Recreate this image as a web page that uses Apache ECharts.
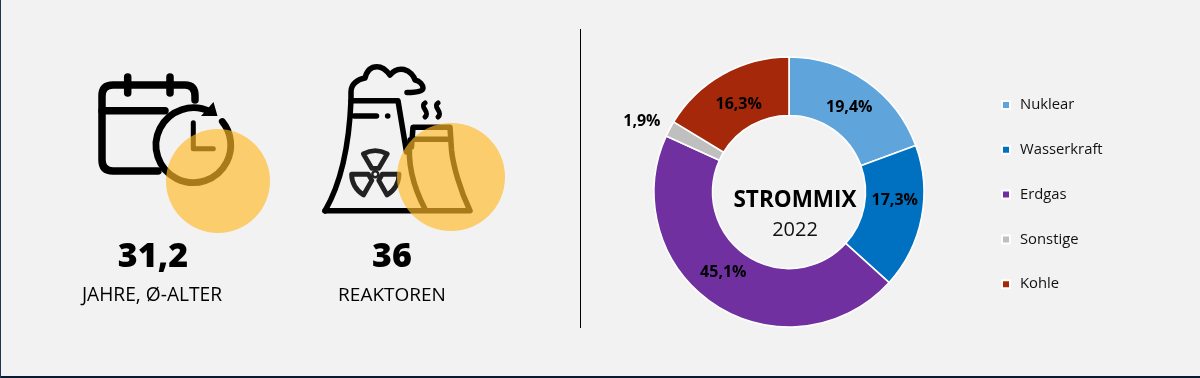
<!DOCTYPE html>
<html>
<head>
<meta charset="utf-8">
<title>Strommix 2022</title>
<script src="https://cdn.jsdelivr.net/npm/echarts@6/dist/echarts.min.js"></script>
<style>
  html, body { margin: 0; padding: 0; background: #f2f2f2; }
  #chart { width: 1200px; height: 378px; }
</style>
</head>
<body>
<div id="chart"></div>
<script>
// Strommix 2022
const categories = ['Nuklear', 'Wasserkraft', 'Erdgas', 'Sonstige', 'Kohle']
const shares = [19.4, 17.3, 45.1, 1.9, 16.3]
const colors = ['#5fa5dc', '#0070c0', '#7030a0', '#bfbfbf', '#a5280a']
// shift of each label from the middle of its ring segment
const labelShifts = [[-2, 5], [-1, -12], [-6, -10], [-51, -20], [3, 7]]

const FONT = '"Open Sans", "Noto Sans", sans-serif'
const HEAVY = '"Noto Sans", "Open Sans", sans-serif'
const INK = '#000'
const YELLOW = 'rgba(255,185,40,0.66)'

// the graphic component has no path type, so the icons go through a custom series
const icon = (d, w) => ({
  type: 'path',
  shape: { pathData: d },
  style: { fill: 'none', stroke: INK, lineWidth: w, lineCap: 'round', lineJoin: 'round' }
})

// Kalender mit Uhr
const calendarIcon = [
  icon('M158 171 H113 Q102 171 102 160 V96 Q102 85 113 85 H185 Q195 85 195 96 V100', 7.5),
  icon('M102 110.7 H165', 7.5),
  icon('M127.7 77 V93 M170 77 V93', 7.5),
  icon('M210.2 111.8 A37.4 37.4 0 1 0 222.3 121.5', 6.8),
  icon('M193.3 122.7 V148.7 H213.3', 5),
  { type: 'path', shape: { pathData: 'M213.5 102 L217.5 116 L201 116 Z' }, style: { fill: INK } }
]

// Kuehlturm
const blade = 'M-3.5 -6 L-12 -20.5 Q0 -27 12 -20.5 L3.5 -6 Z'
const plantIcon = [
  icon('M325 210.8 C340 185 349 150 351 100 V91.7 C351 84 358 79 365 78 C367 70 371 66.7 377 66.7 C383 66.7 387 71 390 75 C394 70 399 68.5 404 69.5 C410 71 414 76 415 80 C420 81 423 85 423 88 C423 91 418 92.5 407 92.5', 5.5),
  icon('M351 100.8 H398 L406.5 152', 5.5),
  icon('M354 116 H376.5', 5.5),
  { type: 'circle', shape: { cx: 387.7, cy: 116, r: 2.8 }, style: { fill: INK } },
  icon('M425 103 C419 107 431 112 425 117 M438 103 C432 107 444 112 438 117', 5),
  icon('M411.5 147 L413 127.3 H450 L451.5 150 C453 165 460 190 470 210.8 H325', 5.5),
  icon('M413 139.3 H450', 5.5),
  icon('M410 140 C407 165 414 188 425 209', 5.5),
  { type: 'circle', shape: { cx: 375.3, cy: 174.3, r: 3 }, style: { fill: 'none', stroke: '#222', lineWidth: 2.4 } }
].concat([0, 2, 4].map((k) => ({
  type: 'path',
  x: 375.3,
  y: 174.3,
  rotation: k * Math.PI / 3,
  shape: { pathData: blade },
  style: { fill: 'none', stroke: '#222', lineWidth: 4.8, lineJoin: 'round' }
})))

const spots = [
  { type: 'circle', shape: { cx: 218, cy: 181, r: 52 }, style: { fill: YELLOW } },
  { type: 'circle', shape: { cx: 451, cy: 177, r: 54 }, style: { fill: YELLOW } }
]

const text = (x, y, str, font, weight, size) => ({
  type: 'text',
  x,
  y,
  style: { text: str, fontFamily: font, fontWeight: weight, fontSize: size, fill: INK, align: 'center', verticalAlign: 'middle' },
  z: 8
})

const option = {
  animation: false,
  backgroundColor: '#f2f2f2',
  color: colors,
  title: {
    text: 'STROMMIX',
    subtext: '2022',
    left: 790,
    top: 183,
    textAlign: 'center',
    itemGap: 4,
    textStyle: { fontFamily: FONT, fontSize: 22.5, fontWeight: 700, color: INK, lineHeight: 26 },
    subtextStyle: { fontFamily: FONT, fontSize: 20, fontWeight: 400, color: '#111', lineHeight: 24 }
  },
  legend: {
    orient: 'vertical',
    left: 996,
    top: 91,
    icon: 'rect',
    itemWidth: 8,
    itemHeight: 8,
    itemGap: 26.8,
    data: categories,
    textStyle: { fontFamily: FONT, fontSize: 14.8, color: '#111', lineHeight: 18, padding: [0, 0, 0, 5] }
  },
  series: [
    {
      type: 'pie',
      center: [789, 192],
      radius: [76.5, 135],
      startAngle: 90,
      clockwise: true,
      silent: true,
      itemStyle: { borderColor: '#fff', borderWidth: 1.6 },
      label: {
        show: true,
        position: 'inside',
        fontFamily: FONT,
        fontSize: 16,
        fontWeight: 700,
        color: INK,
        formatter: (p) => p.value.toFixed(1).replace('.', ',') + '%'
      },
      labelLine: { show: false },
      labelLayout: (p) => ({ dx: labelShifts[p.dataIndex][0], dy: labelShifts[p.dataIndex][1] }),
      data: categories.map((name, i) => ({ name, value: shares[i] }))
    },
    {
      type: 'custom',
      coordinateSystem: 'none',
      silent: true,
      data: [0],
      renderItem: () => ({
        type: 'group',
        children: [...calendarIcon, ...plantIcon, ...spots]
      })
    }
  ],
  graphic: [
    { type: 'rect', shape: { x: 0, y: 376, width: 1200, height: 2 }, style: { fill: '#0b1a33' }, z: 9 },
    { type: 'rect', shape: { x: 0, y: 0, width: 1, height: 378 }, style: { fill: '#1f3552' }, z: 9 },
    { type: 'rect', shape: { x: 580, y: 29, width: 1, height: 299 }, style: { fill: '#000' }, z: 1 },
    text(153, 257, '31,2', HEAVY, 900, 34),
    text(392, 257, '36', HEAVY, 900, 34),
    text(152, 296, 'JAHRE, Ø-ALTER', FONT, 400, 19.2),
    text(392, 296, 'REAKTOREN', FONT, 400, 19)
  ]
}

const myChart = echarts.init(document.getElementById('chart'))
myChart.setOption(option)
</script>
</body>
</html>
